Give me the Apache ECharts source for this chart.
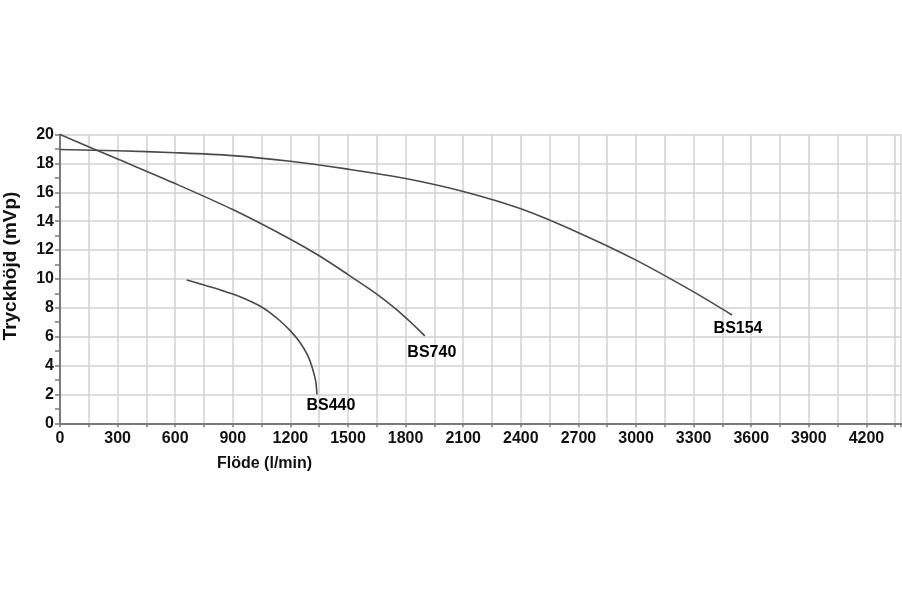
<!DOCTYPE html>
<html>
<head>
<meta charset="utf-8">
<script src="https://cdn.jsdelivr.net/npm/echarts@6/dist/echarts.min.js"></script>
<style>
html,body{margin:0;padding:0;background:#fff;}
#c{width:902px;height:601px;}
</style>
</head>
<body>
<div id="c"></div>
<script>
const bs154Flow = [0, 300, 600, 900, 1200, 1500, 1800, 2100, 2400, 2700, 3000, 3300, 3500];
const bs154Head = [18.96, 18.87, 18.74, 18.54, 18.15, 17.6, 16.95, 16.05, 14.85, 13.2, 11.3, 9.1, 7.5];
const bs740Flow = [0, 300, 600, 900, 1200, 1350, 1500, 1650, 1750, 1850, 1900];
const bs740Head = [20, 18.3, 16.6, 14.8, 12.75, 11.6, 10.3, 8.95, 7.9, 6.7, 6.05];
const bs440Flow = [660, 750, 800, 850, 900, 950, 1000, 1050, 1100, 1150, 1200, 1250, 1290, 1315, 1332, 1338];
const bs440Head = [9.93, 9.58, 9.38, 9.17, 8.95, 8.7, 8.4, 8.05, 7.6, 7.05, 6.4, 5.6, 4.7, 3.8, 2.9, 2.0];
const seriesNames = ['BS154', 'BS740', 'BS440'];
const xTitle = 'Flöde (l/min)';
const yTitle = 'Tryckhöjd (mVp)';

function pairs(xs, ys) { return xs.map((x, i) => [x, ys[i]]); }
const curves = [pairs(bs154Flow, bs154Head), pairs(bs740Flow, bs740Head), pairs(bs440Flow, bs440Head)];
const labelOffsets = [[6, 0], [7, 3], [14, -2]];

const chart = echarts.init(document.getElementById('c'));
const font = 'Liberation Sans, Arial, sans-serif';
const gridColor = '#d2d2d2';
const axisColor = '#7a7a7a';

const lineSeries = curves.map((d, i) => ({
  name: seriesNames[i],
  type: 'line',
  data: d,
  smooth: 0.3,
  symbol: 'none',
  lineStyle: { color: '#4a4a4a', width: 1.6 },
  silent: true,
  z: 3
}));

const labelSeries = {
  type: 'scatter',
  symbolSize: 1,
  itemStyle: { color: 'rgba(0,0,0,0)' },
  silent: true,
  z: 4,
  data: curves.map((d, i) => ({
    value: d[d.length - 1],
    label: {
      show: true,
      formatter: seriesNames[i],
      position: 'bottom',
      distance: 5,
      offset: labelOffsets[i],
      color: '#000',
      opacity: 1,
      fontFamily: font,
      fontWeight: 'bold',
      fontSize: 16
    }
  }))
};

chart.setOption({
  animation: false,
  backgroundColor: '#fff',
  grid: { left: 60, right: 1, top: 134.5, bottom: 177.7, containLabel: false, outerBoundsMode: 'none' },
  xAxis: {
    type: 'value',
    min: 0,
    max: 4380,
    interval: 300,
    axisLine: { show: true, onZero: false, lineStyle: { color: axisColor, width: 2 } },
    axisTick: { show: true, length: 4, lineStyle: { color: axisColor, width: 1.5 } },
    minorTick: { show: true, splitNumber: 2, length: 4, lineStyle: { color: axisColor, width: 1.5 } },
    splitLine: { show: true, lineStyle: { color: gridColor, width: 1.5 } },
    minorSplitLine: { show: true, lineStyle: { color: gridColor, width: 1.5 } },
    axisLabel: {
      color: '#111', fontFamily: font, fontWeight: 'bold', fontSize: 16, margin: 7,
      showMaxLabel: false,
      formatter: v => (v % 300 === 0 ? String(v) : '')
    }
  },
  yAxis: {
    type: 'value',
    min: 0,
    max: 20,
    interval: 2,
    axisLine: { show: true, lineStyle: { color: axisColor, width: 2 } },
    axisTick: { show: true, length: 5, lineStyle: { color: axisColor, width: 1.5 } },
    minorTick: { show: true, splitNumber: 2, length: 5, lineStyle: { color: axisColor, width: 1.5 } },
    splitLine: { show: true, lineStyle: { color: gridColor, width: 1.5 } },
    axisLabel: { color: '#111', fontFamily: font, fontWeight: 'bold', fontSize: 16, margin: 6 }
  },
  graphic: [{
    type: 'text',
    left: 217,
    top: 456,
    style: { text: xTitle, fill: '#111', font: 'bold 16px ' + font }
  }, {
    type: 'text',
    x: 11,
    y: 266,
    rotation: Math.PI / 2,
    style: { text: yTitle, fill: '#111', font: 'bold 19px ' + font, align: 'center', verticalAlign: 'middle' }
  }],
  series: lineSeries.concat([labelSeries])
});
</script>
</body>
</html>
